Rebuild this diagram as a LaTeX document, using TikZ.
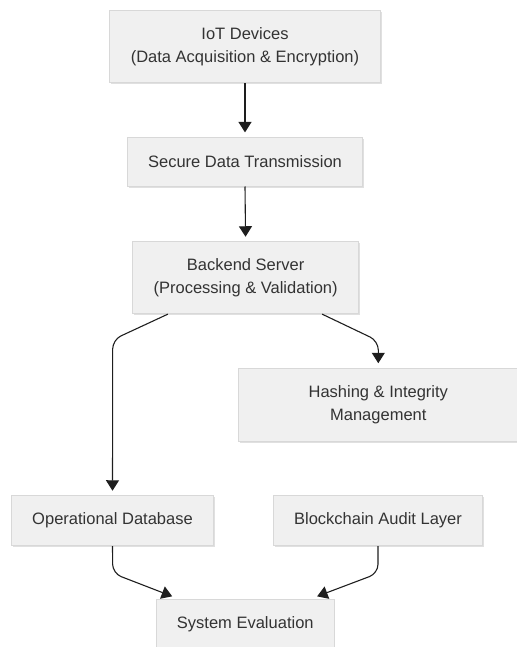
\documentclass[tikz,border=0pt]{standalone}
\usepackage{fontspec}
\setmainfont{Liberation Sans}
\usetikzlibrary{arrows.meta,calc,shadows}
\definecolor{boxfill}{HTML}{F0F0F0}
\definecolor{boxline}{HTML}{D8D8D8}
\definecolor{txt}{HTML}{333333}
\definecolor{edge}{HTML}{1E1E1E}
\begin{document}
\begin{tikzpicture}[x=1pt,y=-1pt,
  box/.style={draw=boxline,line width=0.9pt,fill=boxfill,text=txt,align=center,
    inner sep=0pt,font=\fontsize{16.5}{23.3}\selectfont,
    drop shadow={shadow xshift=1.2pt,shadow yshift=-1.5pt,fill=black,opacity=0.12}},
  conn/.style={draw=edge,line width=1.1pt,-{Triangle[length=10.5pt,width=13pt]},rounded corners=9pt}]
\useasboundingbox (0,0) rectangle (516,647);
\node[box,minimum width=271.4pt,minimum height=71.7pt] (n1) at (245,46.8) {IoT Devices\\(Data Acquisition \& Encryption)};
\node[box,minimum width=235.4pt,minimum height=48.7pt] (n2) at (245,161.7) {Secure Data Transmission};
\node[box,minimum width=225.8pt,minimum height=72pt] (n3) at (245.6,277.7) {Backend Server\\(Processing \& Validation)};
\node[box,minimum width=279.3pt,minimum height=72.6pt] (n4) at (378.3,405) {Hashing \& Integrity\\Management};
\node[box,minimum width=201.6pt,minimum height=50pt] (n5) at (112.5,520.7) {Operational Database};
\node[box,minimum width=209.4pt,minimum height=50pt] (n6) at (378,520.7) {Blockchain Audit Layer};
\node[box,minimum width=177.3pt,minimum height=50pt] (n7) at (245.3,624.3) {System Evaluation};
\draw[conn,shorten >=4.5pt] (n1.south) -- (n2.north);
\draw[conn,shorten >=4.5pt] (n2.south) -- (n3.north);
\draw[conn,shorten >=4.5pt] ($(n3.south west)+(35.6,0)$) -- ($(n5.north)+(0.2,-155.5)$) -- (n5.north);
\draw[conn,shorten >=5pt] ($(n3.south east)+(-36.8,0)$) -- ($(n4.north)+(0,-27.3)$) -- (n4.north);
\draw[conn] (n5.south) -- ($(n5.south)+(0.2,27.2)$) -- ($(n7.north west)+(16,-2.5)$);
\draw[conn] (n6.south) -- ($(n6.south)+(0,27.2)$) -- ($(n7.north east)+(-17.3,-2.5)$);
\end{tikzpicture}
\end{document}
